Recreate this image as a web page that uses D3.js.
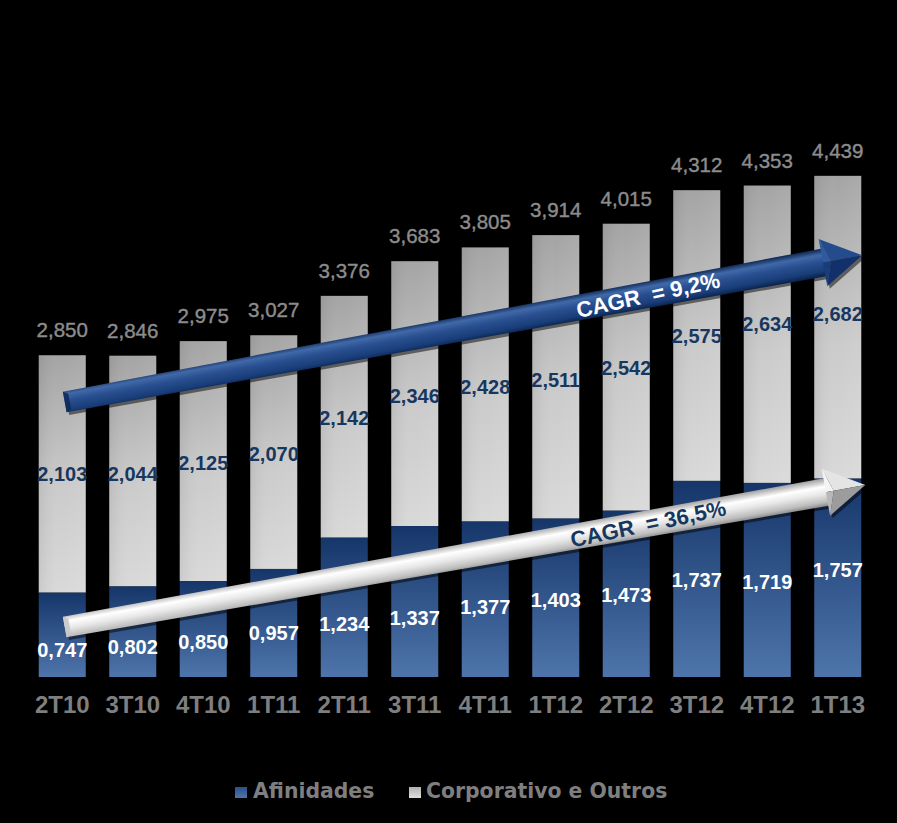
<!DOCTYPE html>
<html><head><meta charset="utf-8">
<script src="https://cdn.jsdelivr.net/npm/d3@7"></script>
<style>html,body{margin:0;padding:0;background:#000;}svg{display:block;}</style>
</head><body>
<script>
// ---- data ----
const categories = ["2T10","3T10","4T10","1T11","2T11","3T11","4T11","1T12","2T12","3T12","4T12","1T13"];
const afinidades = [0.747,0.802,0.850,0.957,1.234,1.337,1.377,1.403,1.473,1.737,1.719,1.757];
const corporativo = [2.103,2.044,2.125,2.070,2.142,2.346,2.428,2.511,2.542,2.575,2.634,2.682];
const totals = [2.850,2.846,2.975,3.027,3.376,3.683,3.805,3.914,4.015,4.312,4.353,4.439];
const seriesNames = ["Afinidades","Corporativo e Outros"];
const cagrLabels = ["CAGR  = 9,2%","CAGR  = 36,5%"];

// ---- layout (label nudges in px, arrow anchors in data units) ----
const afinNudge = [15,15,13,10,16,16,8,2,1,1,2,-8];
const corpNudge = [0,3,2,2,1,2,2,3,1,0,-10,-13];
const arrows = [
  {tail:2.436, tip:3.735, fill:"blue", text:cagrLabels[0], textColor:"#ffffff"},
  {tail:0.443, tip:1.70, fill:"silver", text:cagrLabels[1], textColor:"#17375e"}
];

const W=897,H=823;
const svg=d3.select("body").append("svg").attr("width",W).attr("height",H);
svg.append("rect").attr("width",W).attr("height",H).attr("fill","#000");
const defs=svg.append("defs");
function lg(id,stops,x2,y2){const g=defs.append("linearGradient").attr("id",id).attr("x1",0).attr("y1",0).attr("x2",x2).attr("y2",y2);
 stops.forEach(s=>g.append("stop").attr("offset",s[0]).attr("stop-color",s[1]).attr("stop-opacity",s[2]==null?1:s[2]));}
lg("gGrey",[[0,"#a4a4a4"],[0.55,"#cbcbcb"],[1,"#d9d9d9"]],0,1);
lg("gGreyH",[[0,"#000",0.07],[0.5,"#fff",0.0],[1,"#fff",0.07]],1,0);
lg("gBlue",[[0,"#16366a"],[1,"#4e75ab"]],0,1);
lg("gBlueShaft",[[0,"#0c2650"],[0.22,"#4169a8"],[0.45,"#2a5091"],[0.8,"#183d78"],[1,"#0a2148"]],0,1);
lg("gSilverShaft",[[0,"#9e9e9e"],[0.3,"#ffffff"],[0.55,"#e8e8e8"],[0.85,"#bcbcbc"],[1,"#8a8a8a"]],0,1);
lg("gLegBlue",[[0,"#2a4f8c"],[1,"#4f76ab"]],0,1);
lg("gLegGrey",[[0,"#b0b0b0"],[1,"#e0e0e0"]],0,1);

const x=d3.scaleBand().domain(categories).range([27,873]).paddingInner(0.333).paddingOuter(0.1665);
const y=d3.scaleLinear().domain([0,5]).range([677,112.5]);
const fmt=v=>d3.format(".3f")(v).replace(".",",");

const g=svg.append("g");
categories.forEach((c,i)=>{
  const x0=x(c), bw=x.bandwidth();
  g.append("rect").attr("x",x0).attr("width",bw).attr("y",y(totals[i])).attr("height",y(afinidades[i])-y(totals[i])).attr("fill","url(#gGrey)");
  g.append("rect").attr("x",x0).attr("width",bw).attr("y",y(totals[i])).attr("height",y(afinidades[i])-y(totals[i])).attr("fill","url(#gGreyH)");
  g.append("rect").attr("x",x0).attr("width",bw).attr("y",y(afinidades[i])).attr("height",y(0)-y(afinidades[i])).attr("fill","url(#gBlue)");
});

// arrows
arrows.forEach(a=>{
  const tx=x(categories[0])+26, ty=y(a.tail);
  const hx=x(categories[categories.length-1])+x.bandwidth()+1+(a.fill==="silver"?3:0), hy=y(a.tip);
  const dx=hx-tx, dy=hy-ty, L=Math.hypot(dx,dy), ang=Math.atan2(dy,dx)*180/Math.PI;
  const ag=svg.append("g").attr("transform",`translate(${tx},${ty}) rotate(${ang})`);
  const hl=40, hw=24, s0=10.5, s1=14;
  const blue=a.fill==="blue";
  ag.append("path").attr("d",`M2,${-s0+3}L${L-hl+2},${-s1+3}L${L-hl+2},${-hw+3}L${L+2},3L${L-hl+2},${hw+3}L${L-hl+2},${s1+3}L2,${s0+3}Z`)
    .attr("fill","#000").attr("opacity",0.5);
  const gid=blue?"gBlueShaft":"gSilverShaft";
  ag.append("path").attr("d",`M0,${-s0}L${L-hl+2},${-s1}L${L-hl+2},${s1}L0,${s0}Z`).attr("fill",`url(#${gid})`);
  ag.append("path").attr("d",`M0,${-s0}L5,${-s0+3}L5,${s0-2}L0,${s0}Z`).attr("fill",blue?"#0e2b5c":"#c8c8c8").attr("opacity",0.9);
  ag.append("path").attr("d",`M${L-hl},${-hw}L${L},0L${L-hl+8},0Z`).attr("fill",blue?"#244c8c":"#e4e4e4");
  ag.append("path").attr("d",`M${L-hl},${-hw}L${L-hl+8},0L${L-hl},0Z`).attr("fill",blue?"#2f5aa0":"#f4f4f4");
  ag.append("path").attr("d",`M${L-hl},${hw}L${L},0L${L-hl+8},0Z`).attr("fill",blue?"#12316a":"#9c9c9c");
  ag.append("path").attr("d",`M${L-hl},${hw}L${L-hl+8},0L${L-hl},0Z`).attr("fill",blue?"#1a3d7a":"#b8b8b8");
  const cx=648-tx;
  const along=(cx)/Math.cos(ang*Math.PI/180);
  ag.append("text").attr("x",along).attr("y",0).attr("dy","0.36em")
    .attr("transform",`rotate(-1.8 ${along} 0)`)
    .attr("text-anchor","middle").attr("font-family","'Liberation Sans',Arial,sans-serif").attr("font-weight","bold")
    .attr("font-size",22).attr("fill",a.textColor).style("white-space","pre").text(a.text);
});

// value labels
const lbl=svg.append("g").attr("font-family","'Liberation Sans',Arial,sans-serif").attr("text-anchor","middle");
categories.forEach((c,i)=>{
  const cx=x(c)+x.bandwidth()/2;
  lbl.append("text").attr("x",cx).attr("y",y(totals[i])-18).attr("font-size",20.5).attr("fill","#8c8c8c")
    .attr("stroke","#8c8c8c").attr("stroke-width",0.4).text(fmt(totals[i]));
  lbl.append("text").attr("x",cx).attr("y",(y(totals[i])+y(afinidades[i]))/2+corpNudge[i]).attr("dy","0.36em")
    .attr("font-size",20).attr("font-weight","bold").attr("fill","#17375e").text(fmt(corporativo[i]));
  lbl.append("text").attr("x",cx).attr("y",(y(afinidades[i])+y(0))/2+afinNudge[i]).attr("dy","0.36em")
    .attr("font-size",20).attr("font-weight","bold").attr("fill","#ffffff").text(fmt(afinidades[i]));
});

// x axis
const xa=svg.append("g").attr("transform",`translate(0,${y(0)})`).call(d3.axisBottom(x).tickSize(0).tickPadding(0));
xa.select(".domain").remove();
xa.selectAll("text").attr("y",36).attr("dy",0).attr("font-size",24).attr("font-weight","bold")
  .attr("font-family","'Liberation Sans',Arial,sans-serif").attr("fill","#7f7f7f");

// legend
const leg=svg.append("g").attr("font-family","'DejaVu Sans',Verdana,sans-serif").attr("font-weight","bold").attr("font-size",20.4).attr("fill","#7f7f7f");
const legItems=[{name:seriesNames[0],fill:"url(#gLegBlue)",sx:235,tx:253},{name:seriesNames[1],fill:"url(#gLegGrey)",sx:409,tx:426}];
legItems.forEach(d=>{
  leg.append("rect").attr("x",d.sx).attr("y",787).attr("width",12).attr("height",11).attr("fill",d.fill);
  leg.append("text").attr("x",d.tx).attr("y",798).text(d.name);
});
</script>
</body></html>
